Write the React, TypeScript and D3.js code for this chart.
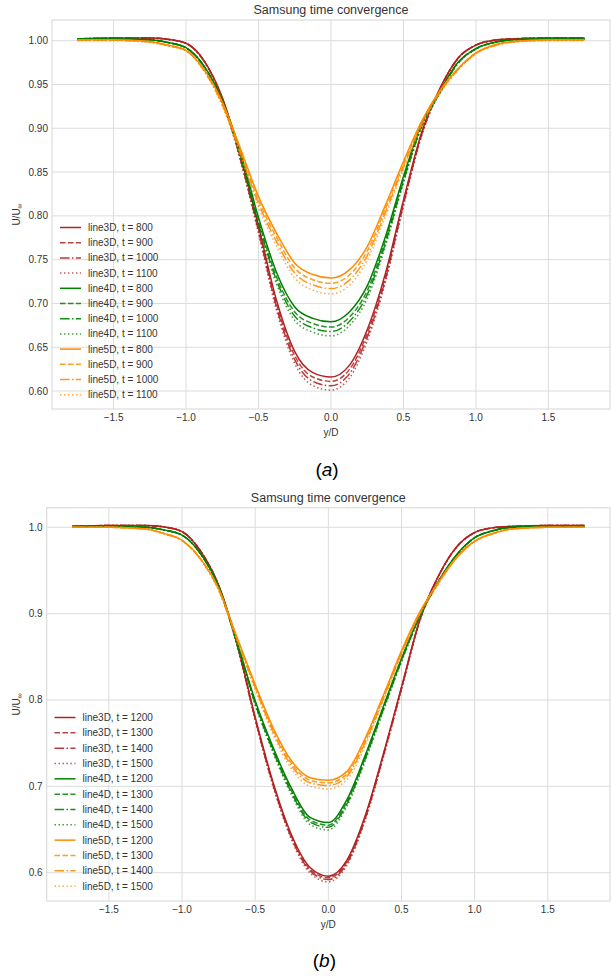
import React from 'react';
import * as d3 from 'd3';

// ---------- shared x positions (y/D) ----------
const yD = [-1.75, -1.5, -1.25, -1.125, -1.0, -0.875, -0.75, -0.625, -0.5, -0.375, -0.25, -0.125, 0, 0.125, 0.25, 0.375, 0.5, 0.625, 0.75, 0.875, 1.0, 1.125, 1.25, 1.5, 1.75];

// ---------- panel (a) series ----------
const timesA = [800, 900, 1000, 1100];
const a3D_800 = [1.002, 1.003, 1.003, 1.0015, 0.997, 0.977, 0.935, 0.868, 0.788, 0.703, 0.645, 0.621, 0.616, 0.629, 0.670, 0.734, 0.818, 0.895, 0.945, 0.980, 0.995, 1.0005, 1.002, 1.003, 1.003];
const a3D_900 = [1.002, 1.003, 1.003, 1.0015, 0.997, 0.9767, 0.9342, 0.8662, 0.7852, 0.6991, 0.6404, 0.616, 0.611, 0.6242, 0.6657, 0.7305, 0.8156, 0.8937, 0.9443, 0.9797, 0.995, 1.0005, 1.002, 1.003, 1.003];
const a3D_1000 = [1.002, 1.003, 1.003, 1.0015, 0.9969, 0.9764, 0.9334, 0.8645, 0.7825, 0.6953, 0.6358, 0.6111, 0.606, 0.6193, 0.6614, 0.7271, 0.8133, 0.8923, 0.9436, 0.9795, 0.9949, 1.0004, 1.002, 1.003, 1.003];
const a3D_1100 = [1.002, 1.003, 1.003, 1.0014, 0.9968, 0.9761, 0.9326, 0.8627, 0.7797, 0.6914, 0.6312, 0.6061, 0.601, 0.6144, 0.6571, 0.7236, 0.8109, 0.8909, 0.9429, 0.9792, 0.9948, 1.0004, 1.002, 1.003, 1.003];

const a4D_800 = [1.002, 1.002, 1.001, 0.998, 0.992, 0.971, 0.932, 0.873, 0.798, 0.735, 0.696, 0.683, 0.679, 0.690, 0.720, 0.776, 0.845, 0.905, 0.942, 0.975, 0.991, 0.998, 1.001, 1.002, 1.002];
const a4D_900 = [1.002, 1.002, 1.001, 0.998, 0.9918, 0.9705, 0.9308, 0.8706, 0.7942, 0.730, 0.6902, 0.6771, 0.673, 0.6841, 0.7146, 0.7719, 0.8421, 0.9033, 0.9409, 0.9745, 0.9908, 0.998, 1.001, 1.002, 1.002];
const a4D_1000 = [1.002, 1.002, 1.001, 0.9979, 0.9917, 0.970, 0.9298, 0.8686, 0.7911, 0.7259, 0.6854, 0.6721, 0.668, 0.6792, 0.7101, 0.7684, 0.8397, 0.9018, 0.940, 0.9741, 0.9907, 0.9979, 1.001, 1.002, 1.002];
const a4D_1100 = [1.002, 1.002, 1.001, 0.9979, 0.9916, 0.9696, 0.9288, 0.8666, 0.7879, 0.7217, 0.6806, 0.6672, 0.663, 0.6743, 0.7056, 0.765, 0.8373, 0.9004, 0.9391, 0.9737, 0.9905, 0.9979, 1.001, 1.002, 1.002];

const a5D_800 = [1.001, 1.001, 0.999, 0.995, 0.989, 0.967, 0.930, 0.877, 0.822, 0.780, 0.746, 0.733, 0.729, 0.738, 0.765, 0.812, 0.862, 0.908, 0.943, 0.968, 0.986, 0.995, 0.999, 1.001, 1.001];
const a5D_900 = [1.0005, 1.0005, 0.9985, 0.9945, 0.9888, 0.9663, 0.9285, 0.8743, 0.818, 0.7751, 0.7403, 0.7271, 0.723, 0.7322, 0.7598, 0.8079, 0.8589, 0.9061, 0.9417, 0.9673, 0.9857, 0.9945, 0.9985, 1.0005, 1.0005];
const a5D_1000 = [1.0005, 1.0005, 0.9985, 0.9943, 0.9885, 0.9656, 0.927, 0.8716, 0.8141, 0.7702, 0.7346, 0.7211, 0.717, 0.7264, 0.7547, 0.8037, 0.8559, 0.9042, 0.9404, 0.9667, 0.9854, 0.9943, 0.9985, 1.0005, 1.0005];
const a5D_1100 = [1.000, 1.000, 0.998, 0.994, 0.9883, 0.9648, 0.9255, 0.8689, 0.8101, 0.7652, 0.7289, 0.7152, 0.711, 0.7205, 0.7495, 0.7996, 0.8528, 0.9022, 0.939, 0.966, 0.9851, 0.994, 0.998, 1.000, 1.000];

// ---------- panel (b) series ----------
const timesB = [1200, 1300, 1400, 1500];
const b3D_1200 = [1.001, 1.002, 1.002, 1.0005, 0.995, 0.973, 0.933, 0.866, 0.780, 0.703, 0.643, 0.606, 0.596, 0.614, 0.665, 0.737, 0.815, 0.893, 0.943, 0.977, 0.994, 0.9995, 1.001, 1.002, 1.002];
const b3D_1300 = [1.001, 1.002, 1.002, 1.0005, 0.995, 0.9729, 0.9327, 0.8653, 0.7789, 0.7015, 0.6412, 0.604, 0.594, 0.6121, 0.6633, 0.7357, 0.8141, 0.8925, 0.9427, 0.9769, 0.994, 0.9995, 1.001, 1.002, 1.002];
const b3D_1400 = [1.001, 1.002, 1.002, 1.0005, 0.995, 0.9727, 0.9324, 0.8647, 0.7778, 0.7001, 0.6395, 0.6021, 0.592, 0.6102, 0.6617, 0.7344, 0.8132, 0.892, 0.9425, 0.9768, 0.9939, 0.9994, 1.001, 1.002, 1.002];
const b3D_1500 = [1.001, 1.002, 1.002, 1.0004, 0.9949, 0.9726, 0.932, 0.8638, 0.7764, 0.6982, 0.6373, 0.5996, 0.5895, 0.6078, 0.6596, 0.7328, 0.812, 0.8913, 0.9421, 0.9766, 0.9939, 0.9994, 1.001, 1.002, 1.002];

const b4D_1200 = [1.001, 1.001, 1.000, 0.997, 0.991, 0.970, 0.932, 0.868, 0.799, 0.744, 0.697, 0.664, 0.658, 0.684, 0.735, 0.792, 0.848, 0.898, 0.937, 0.968, 0.988, 0.996, 1.000, 1.001, 1.001];
const b4D_1300 = [1.001, 1.001, 1.000, 0.997, 0.9909, 0.9697, 0.9314, 0.8668, 0.7972, 0.7418, 0.6943, 0.6611, 0.655, 0.6812, 0.7327, 0.7902, 0.8467, 0.8972, 0.9365, 0.9677, 0.9879, 0.996, 1.000, 1.001, 1.001];
const b4D_1400 = [1.001, 1.001, 1.000, 0.9969, 0.9909, 0.9695, 0.931, 0.8658, 0.7958, 0.7399, 0.6921, 0.6586, 0.6525, 0.679, 0.7308, 0.7887, 0.8456, 0.8965, 0.936, 0.9675, 0.9878, 0.9959, 1.000, 1.001, 1.001];
const b4D_1500 = [1.001, 1.001, 1.000, 0.9969, 0.9908, 0.9693, 0.9304, 0.8647, 0.794, 0.7376, 0.6895, 0.6557, 0.6495, 0.6762, 0.7285, 0.7868, 0.8442, 0.8956, 0.9355, 0.9673, 0.9878, 0.9959, 1.000, 1.001, 1.001];

const b5D_1200 = [1.000, 1.000, 0.998, 0.993, 0.985, 0.964, 0.929, 0.873, 0.818, 0.767, 0.729, 0.710, 0.707, 0.717, 0.755, 0.805, 0.857, 0.902, 0.936, 0.965, 0.984, 0.993, 0.998, 1.000, 1.000];
const b5D_1300 = [1.000, 1.000, 0.998, 0.9928, 0.9848, 0.9636, 0.9283, 0.8717, 0.8161, 0.7646, 0.7262, 0.707, 0.704, 0.7141, 0.7524, 0.803, 0.8555, 0.901, 0.9354, 0.9647, 0.9838, 0.9928, 0.998, 1.000, 1.000];
const b5D_1400 = [1.000, 1.000, 0.998, 0.9926, 0.9847, 0.9633, 0.9276, 0.8704, 0.8143, 0.7622, 0.7234, 0.7041, 0.701, 0.7112, 0.7499, 0.8011, 0.8541, 0.9001, 0.9347, 0.9643, 0.9837, 0.9926, 0.998, 1.000, 1.000];
const b5D_1500 = [1.000, 1.000, 0.9979, 0.9924, 0.9845, 0.9628, 0.9267, 0.8686, 0.8118, 0.759, 0.7197, 0.7001, 0.697, 0.7073, 0.7465, 0.7984, 0.8521, 0.8988, 0.9338, 0.9638, 0.9835, 0.9924, 0.9979, 1.000, 1.000];

// ---------- ticks ----------
const xTicks = [-1.5, -1.0, -0.5, 0.0, 0.5, 1.0, 1.5];
const yTicksA = [0.60, 0.65, 0.70, 0.75, 0.80, 0.85, 0.90, 0.95, 1.00];
const yTicksB = [0.6, 0.7, 0.8, 0.9, 1.0];

const lineNames = ['line3D', 'line4D', 'line5D'];
const seriesA = [
  [a3D_800, a3D_900, a3D_1000, a3D_1100],
  [a4D_800, a4D_900, a4D_1000, a4D_1100],
  [a5D_800, a5D_900, a5D_1000, a5D_1100],
];
const seriesB = [
  [b3D_1200, b3D_1300, b3D_1400, b3D_1500],
  [b4D_1200, b4D_1300, b4D_1400, b4D_1500],
  [b5D_1200, b5D_1300, b5D_1400, b5D_1500],
];

// ---------- styles ----------
const COLORS = ['#b22222', '#008000', '#ff8c00'];
const DASHES = ['', '5.55,2.4', '9.6,2.4,1.5,2.4', '1.5,2.475'];
const OPAC = [1, 0.85, 0.9, 0.75];
const FONT = '"Liberation Sans", Arial, Helvetica, sans-serif';
const GRID = '#dcdcdc';
const TXT = '#333333';

const minus = (s: string) => s.replace('-', '\u2212');

interface PanelProps {
  left: number; right: number; top: number; bottom: number;
  xDomain: [number, number]; yDomain: [number, number];
  yTicks: number[]; yFmt: string;
  series: number[][][]; times: number[];
  legendX: number; legendY: number; legendStep: number;
  caption: string; captionY: number;
}

function Panel(p: PanelProps) {
  const x = d3.scaleLinear().domain(p.xDomain).range([p.left, p.right]);
  const y = d3.scaleLinear().domain(p.yDomain).range([p.bottom, p.top]);
  const line = d3.line<[number, number]>()
    .x(d => x(d[0]))
    .y(d => y(d[1]))
    .curve(d3.curveMonotoneX);
  const fy = d3.format(p.yFmt);
  const fx = d3.format('.1f');
  const cx = (p.left + p.right) / 2;
  const cy = (p.top + p.bottom) / 2;
  const clipId = `clip-${p.caption}`;

  const legendItems: { name: string; ci: number; ti: number }[] = [];
  p.series.forEach((grp, ci) => grp.forEach((_, ti) => legendItems.push({ name: `${lineNames[ci]}, t = ${p.times[ti]}`, ci, ti })));

  return (
    <g fontFamily={FONT}>
      <defs>
        <clipPath id={clipId}>
          <rect x={p.left} y={p.top} width={p.right - p.left} height={p.bottom - p.top} />
        </clipPath>
      </defs>
      <rect x={p.left} y={p.top} width={p.right - p.left} height={p.bottom - p.top} fill="#fff" />
      {xTicks.map(t => (
        <line key={'gx' + t} x1={x(t)} x2={x(t)} y1={p.top} y2={p.bottom} stroke={GRID} strokeWidth={1} />
      ))}
      {p.yTicks.map(t => (
        <line key={'gy' + t} x1={p.left} x2={p.right} y1={y(t)} y2={y(t)} stroke={GRID} strokeWidth={1} />
      ))}
      <rect x={p.left} y={p.top} width={p.right - p.left} height={p.bottom - p.top} fill="none" stroke={GRID} strokeWidth={1.2} />
      <g clipPath={`url(#${clipId})`}>
        {p.series.map((grp, ci) => grp.map((vals, ti) => (
          <path key={`s${ci}-${ti}`}
            d={line(yD.map((xv, i) => [xv, vals[i]] as [number, number])) || ''}
            fill="none" stroke={COLORS[ci]} strokeWidth={1.5}
            strokeDasharray={DASHES[ti] || undefined} strokeOpacity={OPAC[ti]} />
        )))}
      </g>
      {xTicks.map(t => (
        <text key={'tx' + t} x={x(t)} y={p.bottom + 12} fontSize={10} fill={TXT} textAnchor="middle">{minus(fx(t))}</text>
      ))}
      {p.yTicks.map(t => (
        <text key={'ty' + t} x={p.left - 4} y={y(t) + 3.5} fontSize={10} fill={TXT} textAnchor="end">{fy(t)}</text>
      ))}
      <text x={cx} y={p.top - 6} fontSize={12.5} fill={TXT} textAnchor="middle">Samsung time convergence</text>
      <text x={cx} y={p.bottom + 27} fontSize={10} fill={TXT} textAnchor="middle">y/D</text>
      <text transform={`translate(${20},${cy}) rotate(-90)`} fontSize={10} fill={TXT} textAnchor="middle">
        U/U<tspan fontSize={7} dy={2}>∞</tspan>
      </text>
      {legendItems.map((it, i) => {
        const ly = p.legendY + i * p.legendStep;
        return (
          <g key={'lg' + i}>
            <line x1={p.legendX} x2={p.legendX + 21} y1={ly} y2={ly} stroke={COLORS[it.ci]} strokeWidth={1.5}
              strokeDasharray={DASHES[it.ti] || undefined} strokeOpacity={OPAC[it.ti]} />
            <text x={p.legendX + 28} y={ly + 3.5} fontSize={10} fill={TXT}>{it.name}</text>
          </g>
        );
      })}
      <text x={cx - 4} y={p.captionY} fontSize={19} fill="#000" textAnchor="middle">
        (<tspan fontStyle="italic">{p.caption}</tspan>)
      </text>
    </g>
  );
}

export default function App() {
  return (
    <div style={{ position: 'absolute', left: 0, top: 0, background: '#fff' }}>
      <svg width={611} height={978} viewBox="0 0 611 978" style={{ display: 'block' }}>
        <rect x={0} y={0} width={611} height={978} fill="#fff" />
        <Panel left={52} right={610} top={20} bottom={409}
          xDomain={[-1.925, 1.925]} yDomain={[0.5795, 1.0236]}
          yTicks={yTicksA} yFmt=".2f" series={seriesA} times={timesA}
          legendX={60} legendY={227.5} legendStep={15.2}
          caption="a" captionY={476} />
        <Panel left={46.7} right={610} top={507.7} bottom={901}
          xDomain={[-1.925, 1.925]} yDomain={[0.5672, 1.0227]}
          yTicks={yTicksB} yFmt=".1f" series={seriesB} times={timesB}
          legendX={54.5} legendY={717.5} legendStep={15.33}
          caption="b" captionY={967} />
      </svg>
    </div>
  );
}
